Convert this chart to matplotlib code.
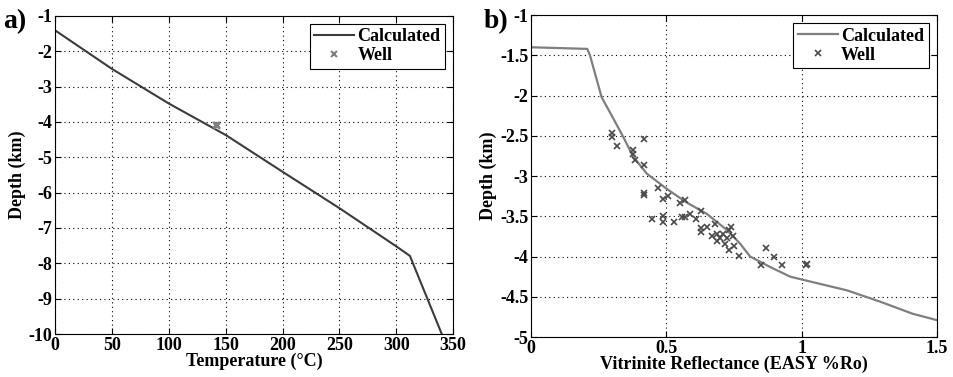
import numpy as np
import matplotlib.pyplot as plt

# panel a: temperature profile
temp_calc = [0, 50, 100, 150, 200, 250, 300, 312, 340]
depth_temp_calc = [-1.41, -2.5, -3.48, -4.37, -5.41, -6.44, -7.52, -7.79, -10.0]
temp_well = [142, 142.5, 141.5]
depth_temp_well = [-4.08, -4.12, -4.1]

# panel b: vitrinite reflectance
ro_calc = [0, 0.208, 0.218, 0.237, 0.261, 0.305, 0.342, 0.378, 0.428, 0.502,
           0.576, 0.65, 0.724, 0.773, 0.81, 0.884, 0.958, 1.044, 1.168, 1.29,
           1.41, 1.5]
depth_ro_calc = [-1.40, -1.42, -1.50, -1.73, -2.02, -2.29, -2.52, -2.76, -2.97,
                 -3.16, -3.33, -3.47, -3.67, -3.84, -4.0, -4.13, -4.25, -4.32,
                 -4.42, -4.56, -4.71, -4.79]
ro_well = [0.298, 0.298, 0.319, 0.418, 0.378, 0.378, 0.384, 0.418, 0.418, 0.418,
           0.469, 0.487, 0.508, 0.549, 0.569, 0.449, 0.487, 0.487, 0.527, 0.557,
           0.57, 0.588, 0.61, 0.628, 0.628, 0.628, 0.65, 0.668, 0.68, 0.689,
           0.689, 0.70, 0.709, 0.718, 0.724, 0.73, 0.739, 0.745, 0.751, 0.73,
           0.767, 0.869, 0.899, 0.85, 0.927, 1.02, 1.015]
depth_ro_well = [-2.47, -2.52, -2.63, -2.54, -2.68, -2.73, -2.80, -2.86, -3.21, -3.23,
                 -3.15, -3.29, -3.25, -3.34, -3.30, -3.53, -3.50, -3.57, -3.57, -3.51,
                 -3.51, -3.47, -3.53, -3.44, -3.65, -3.70, -3.63, -3.75, -3.59, -3.72,
                 -3.81, -3.77, -3.72, -3.84, -3.77, -3.67, -3.63, -3.74, -3.87, -3.92,
                 -3.99, -3.90, -4.01, -4.10, -4.10, -4.09, -4.10]

plt.rcParams['font.family'] = 'Liberation Serif'
plt.rcParams['font.weight'] = 'bold'
plt.rcParams['axes.labelweight'] = 'bold'
plt.rcParams['axes.unicode_minus'] = False

FS = 13

fig = plt.figure(figsize=(9.54, 3.77), dpi=100)
ax1 = fig.add_axes([0.0577, 0.114, 0.4173, 0.844])
ax2 = fig.add_axes([0.5566, 0.106, 0.4254, 0.854])


def style(ax):
    ax.grid(True, color='black', linestyle=(0, (1, 3)), linewidth=0.8)
    ax.tick_params(direction='in', top=True, right=True, labelsize=FS, length=4, pad=2)
    for s in ax.spines.values():
        s.set_linewidth(0.8)


ax1.plot(temp_calc, depth_temp_calc, color='#3c3c3c', lw=1.5, label='Calculated')
ax1.plot(temp_well, depth_temp_well, 'x', color='#808080', ms=4, mew=1.5, label='Well')
ax1.set_xlim(0, 350)
ax1.set_ylim(-10, -1)
ax1.set_xticks(range(0, 351, 50))
ax1.set_yticks(range(-10, 0))
ax1.set_xlabel('Temperature (°C)', fontsize=FS, labelpad=-1)
ax1.set_ylabel('Depth (km)', fontsize=FS, labelpad=2)
style(ax1)
leg1 = ax1.legend(loc='upper right', fontsize=FS, fancybox=False, framealpha=1,
                  edgecolor='black', borderpad=0.25, handlelength=2.2,
                  handletextpad=0.2, labelspacing=0.1, borderaxespad=0.45)
leg1.get_frame().set_linewidth(0.8)

ax2.plot(ro_calc, depth_ro_calc, color='#7f7f7f', lw=1.6, label='Calculated')
ax2.plot(ro_well, depth_ro_well, 'x', color='#4a4a4a', ms=4.5, mew=1.2, label='Well')
ax2.set_xlim(0, 1.5)
ax2.set_ylim(-5, -1)
ax2.set_xticks([0, 0.5, 1, 1.5])
ax2.set_xticklabels(['0', '0.5', '1', '1.5'])
ax2.set_yticks([-5, -4.5, -4, -3.5, -3, -2.5, -2, -1.5, -1])
ax2.set_yticklabels(['-5', '-4.5', '-4', '-3.5', '-3', '-2.5', '-2', '-1.5', '-1'])
ax2.set_xlabel('Vitrinite Reflectance (EASY %Ro)', fontsize=FS, labelpad=-1)
ax2.set_ylabel('Depth (km)', fontsize=FS, labelpad=2)
style(ax2)
leg2 = ax2.legend(loc='upper right', fontsize=FS, fancybox=False, framealpha=1,
                  edgecolor='black', borderpad=0.25, handlelength=2.2,
                  handletextpad=0.2, labelspacing=0.1, borderaxespad=0.45)
leg2.get_frame().set_linewidth(0.8)

fig.text(0.003, 0.975, 'a)', fontsize=20, fontweight='bold', va='top')
fig.text(0.507, 0.975, 'b)', fontsize=20, fontweight='bold', va='top')

fig.savefig('out.png', dpi=100)
